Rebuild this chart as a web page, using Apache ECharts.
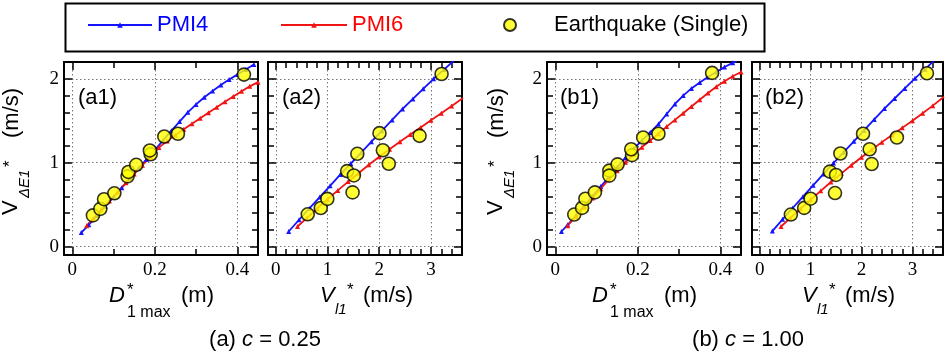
<!DOCTYPE html>
<html>
<head>
<meta charset="utf-8">
<title>V_dE1 vs D1max / Vl1</title>
<script src="https://cdn.jsdelivr.net/npm/echarts@6.0.0/dist/echarts.min.js"></script>
<style>
html,body{margin:0;padding:0;background:#fff;}
#main{width:948px;height:353px;}
</style>
</head>
<body>
<div id="main"></div>
<script>
// tick labels
var dTicks = [0, 0.2, 0.4];
var vTicks = [0, 1, 2, 3];
var yTicks = [0, 1, 2];

// (a) c = 0.25 , panel a1 : D1*max
var a1Pmi4X = [0.022,0.04,0.06,0.08,0.10,0.12,0.14,0.16,0.18,0.20,0.22,0.24,0.26,0.28,0.30,0.32,0.34,0.36,0.38,0.40,0.42,0.44];
var a1Pmi4Y = [0.168,0.26,0.37,0.48,0.59,0.70,0.815,0.93,1.04,1.15,1.265,1.38,1.49,1.60,1.695,1.78,1.855,1.925,1.99,2.05,2.11,2.17];
var a1Pmi6X = [0.035,0.05,0.07,0.09,0.11,0.13,0.15,0.17,0.19,0.21,0.23,0.25,0.27,0.29,0.31,0.33,0.35,0.37,0.39,0.41,0.43,0.45];
var a1Pmi6Y = [0.25,0.33,0.44,0.545,0.65,0.76,0.865,0.97,1.07,1.18,1.26,1.33,1.40,1.465,1.53,1.595,1.66,1.725,1.79,1.85,1.91,1.96];
var a1EqX = [0.05,0.068,0.077,0.102,0.134,0.136,0.155,0.19,0.188,0.223,0.256,0.416];
var a1EqY = [0.372,0.45,0.565,0.635,0.837,0.89,0.975,1.10,1.146,1.312,1.345,2.05];

// panel a2 : Vl1*
var a2Pmi4X = [0.25,0.45,0.65,0.85,1.05,1.25,1.45,1.65,1.85,2.05,2.25,2.45,2.65,2.85,3.05,3.25,3.45];
var a2Pmi4Y = [0.18,0.32,0.455,0.59,0.725,0.86,0.99,1.12,1.25,1.38,1.51,1.64,1.76,1.88,2.00,2.11,2.22];
var a2Pmi6X = [0.42,0.6,0.8,1.0,1.2,1.4,1.6,1.8,2.0,2.2,2.4,2.6,2.8,3.0,3.2,3.4,3.62];
var a2Pmi6Y = [0.24,0.34,0.455,0.565,0.67,0.775,0.875,0.975,1.07,1.16,1.25,1.335,1.42,1.505,1.59,1.675,1.77];
var a2EqX = [0.618,0.87,0.997,1.485,1.38,1.51,1.577,2.07,2.185,2.005,2.78,3.205];
var a2EqY = [0.385,0.46,0.569,0.646,0.9,0.848,1.106,1.148,0.987,1.352,1.32,2.057];

// (b) c = 1.00 , panel b1 : D1*max
var b1Pmi4X = [0.015,0.03,0.05,0.07,0.09,0.11,0.13,0.15,0.17,0.19,0.21,0.23,0.25,0.27,0.29,0.31,0.33,0.35,0.37,0.39,0.41,0.43,0.44];
var b1Pmi4Y = [0.18,0.26,0.37,0.485,0.60,0.715,0.83,0.945,1.06,1.165,1.265,1.36,1.46,1.58,1.70,1.80,1.885,1.955,2.02,2.08,2.14,2.19,2.215];
var b1Pmi6X = [0.03,0.05,0.07,0.09,0.11,0.13,0.15,0.17,0.19,0.21,0.23,0.25,0.27,0.29,0.31,0.33,0.35,0.37,0.39,0.41,0.43,0.45];
var b1Pmi6Y = [0.25,0.36,0.47,0.58,0.69,0.80,0.905,1.005,1.10,1.185,1.265,1.345,1.43,1.51,1.59,1.67,1.75,1.83,1.905,1.97,2.03,2.08];
var b1EqX = [0.046,0.065,0.073,0.096,0.131,0.131,0.151,0.186,0.184,0.213,0.25,0.38];
var b1EqY = [0.382,0.461,0.571,0.646,0.906,0.846,0.98,1.09,1.16,1.30,1.345,2.07];

// panel b2 : Vl1*
var b2Pmi4X = [0.25,0.45,0.65,0.85,1.05,1.25,1.45,1.65,1.85,2.05,2.25,2.45,2.65,2.85,3.05,3.25,3.43];
var b2Pmi4Y = [0.185,0.325,0.46,0.595,0.73,0.865,0.995,1.125,1.255,1.385,1.515,1.645,1.765,1.885,2.005,2.115,2.22];
var b2Pmi6X = [0.42,0.6,0.8,1.0,1.2,1.4,1.6,1.8,2.0,2.2,2.4,2.6,2.8,3.0,3.2,3.4,3.62];
var b2Pmi6Y = [0.24,0.34,0.45,0.56,0.665,0.77,0.87,0.97,1.065,1.155,1.245,1.33,1.415,1.50,1.59,1.68,1.785];
var b2EqX = [0.613,0.874,1.0,1.48,1.38,1.5,1.585,2.16,2.2,2.03,2.695,3.285];
var b2EqY = [0.382,0.461,0.571,0.638,0.894,0.854,1.11,1.16,0.984,1.345,1.30,2.066];

var BLUE = '#1414ff', RED = '#f01414';
var SERIF = 'Liberation Serif', SANS = 'Liberation Sans';

function pairs(xs, ys){
    var r = [];
    for (var i = 0; i < xs.length; i++) r.push([xs[i], ys[i]]);
    return r;
}
// only show labels listed in the tick array
function labelFrom(list){
    return function(v){
        for (var i = 0; i < list.length; i++) {
            if (Math.abs(v - list[i]) < 1e-6) return String(list[i]);
        }
        return '';
    };
}

var panels = [
    {box:{left:64, top:62, width:194, height:193}, xr:[-0.02,0.45], xSplit:2, xMinor:2, xLab:dTicks, yLab:true,
     p4:pairs(a1Pmi4X,a1Pmi4Y), p6:pairs(a1Pmi6X,a1Pmi6Y), eq:pairs(a1EqX,a1EqY)},
    {box:{left:268, top:62, width:194, height:193}, xr:[-0.15,3.6], xSplit:3, xMinor:5, xLab:vTicks, yLab:false,
     p4:pairs(a2Pmi4X,a2Pmi4Y), p6:pairs(a2Pmi6X,a2Pmi6Y), eq:pairs(a2EqX,a2EqY)},
    {box:{left:547, top:62, width:194, height:193}, xr:[-0.02,0.45], xSplit:2, xMinor:2, xLab:dTicks, yLab:true,
     p4:pairs(b1Pmi4X,b1Pmi4Y), p6:pairs(b1Pmi6X,b1Pmi6Y), eq:pairs(b1EqX,b1EqY)},
    {box:{left:752, top:62, width:191, height:193}, xr:[-0.15,3.6], xSplit:3, xMinor:5, xLab:vTicks, yLab:false,
     p4:pairs(b2Pmi4X,b2Pmi4Y), p6:pairs(b2Pmi6X,b2Pmi6Y), eq:pairs(b2EqX,b2EqY)}
];

var grids = [], xAxes = [], yAxes = [], series = [];

panels.forEach(function(p, g){
    grids.push({left:p.box.left, top:p.box.top, width:p.box.width, height:p.box.height,
        containLabel:false, outerBoundsMode:'none', show:false});
    // bottom + top
    [0,1].forEach(function(k){
        xAxes.push({
            type:'value', gridIndex:g, position:k ? 'top' : 'bottom',
            min:p.xr[0], max:p.xr[1], splitNumber:p.xSplit,
            axisLine:{show:true, onZero:false, lineStyle:{color:'#000', width:2}},
            axisTick:{show:true, inside:true, length:8, lineStyle:{color:'#000', width:1.5}},
            minorTick:{show:true, splitNumber:p.xMinor, length:6, lineStyle:{color:'#000', width:1.5}},
            splitLine:{show:!k, lineStyle:{color:'#777', width:1, type:[1.5,2.5]}},
            axisLabel:{show:!k, formatter:labelFrom(p.xLab), fontFamily:SERIF, fontSize:19, color:'#000', margin:6}
        });
    });
    // left + right ; shared y numbers of a2 / b2 are kept but transparent
    [0,1].forEach(function(k){
        yAxes.push({
            type:'value', gridIndex:g, position:k ? 'right' : 'left',
            min:-0.1, max:2.2, splitNumber:2,
            axisLine:{show:true, onZero:false, lineStyle:{color:'#000', width:2}},
            axisTick:{show:true, inside:true, length:8, lineStyle:{color:'#000', width:1.5}},
            minorTick:{show:true, splitNumber:5, length:6, lineStyle:{color:'#000', width:1.5}},
            splitLine:{show:!k, lineStyle:{color:'#777', width:1, type:[1.5,2.5]}},
            axisLabel:{show:!k, formatter:labelFrom(yTicks), fontFamily:SERIF, fontSize:19,
                color:p.yLab ? '#000' : 'rgba(0,0,0,0)', margin:5}
        });
    });
    series.push({type:'line', name:'PMI4', xAxisIndex:2*g, yAxisIndex:2*g, data:p.p4,
        symbol:'triangle', symbolSize:5, showSymbol:true,
        lineStyle:{color:BLUE, width:1.8}, itemStyle:{color:BLUE}});
    series.push({type:'line', name:'PMI6', xAxisIndex:2*g, yAxisIndex:2*g, data:p.p6,
        symbol:'triangle', symbolSize:5, showSymbol:true,
        lineStyle:{color:RED, width:1.8}, itemStyle:{color:RED}});
    series.push({type:'scatter', name:'Earthquake (Single)', xAxisIndex:2*g, yAxisIndex:2*g, data:p.eq,
        symbolSize:13, itemStyle:{color:'#ffff00', borderColor:'#000', borderWidth:1.6}, z:3});
});

// axis titles
function txt(x, y, text, size, italic){
    return {type:'text', z:10, style:{text:text, x:x, y:y, fill:'#000',
        font:(italic ? 'italic ' : '') + size + 'px "' + SANS + '"',
        textAlign:'left', textVerticalAlign:'middle'}};
}
function dTitle(c){
    return [txt(c-52, 296, 'D', 22, true), txt(c-34, 290, '*', 17), txt(c-34, 313, '1 max', 16), txt(c+20, 296, '(m)', 22)];
}
function vTitle(c){
    return [txt(c-45, 296, 'V', 22, true), txt(c-30, 310, 'l1', 15, true), txt(c-18, 290, '*', 17), txt(c-2, 296, '(m/s)', 22)];
}
function yTitle(x){
    return {type:'group', x:x, y:215, rotation:Math.PI/2, children:[
        txt(0, 0, 'V', 22), txt(17, 14, '\u0394E1', 15, true), txt(48, 0, '*', 17), txt(77, 1, '(m/s)', 22)
    ]};
}
function caption(cx, a, val){
    return {type:'text', z:10, style:{x:cx, y:340, text:'(' + a + ') {i|c} = ' + val, textAlign:'center', textVerticalAlign:'middle',
        fill:'#000', font:'22px "' + SANS + '"', rich:{i:{fontStyle:'italic', fontSize:22, fontFamily:SANS}}}};
}

var graphics = [
    {type:'rect', shape:{x:65.5, y:3.5, width:699, height:48}, style:{fill:'none', stroke:'#000', lineWidth:2}, z:10},
    txt(78, 98, '(a1)', 22), txt(282, 98, '(a2)', 22), txt(560, 98, '(b1)', 22), txt(765, 98, '(b2)', 22),
    yTitle(10.5), yTitle(495.5),
    caption(265, 'a', '0.25'), caption(748, 'b', '1.00')
].concat(dTitle(161), vTitle(365), dTitle(644), vTitle(847));

var legendText = {fontSize:22, fontFamily:SANS};
var option = {
    animation:false,
    backgroundColor:'#fff',
    grid:grids,
    xAxis:xAxes,
    yAxis:yAxes,
    legend:[
        {data:[{name:'PMI4', textStyle:{color:'#0000ff'}}], left:87, top:14, padding:0, itemWidth:64, itemHeight:7,
         selectedMode:false, textStyle:legendText},
        {data:[{name:'PMI6', textStyle:{color:'#ff0000'}}], left:280, top:14, padding:0, itemWidth:66, itemHeight:7,
         selectedMode:false, textStyle:legendText},
        {data:[{name:'Earthquake (Single)', textStyle:{color:'#000', padding:[0,0,0,33]}}], left:503, top:14, padding:0,
         itemWidth:12, itemHeight:12, selectedMode:false, textStyle:legendText}
    ],
    graphic:graphics,
    series:series
};

var myChart = echarts.init(document.getElementById('main'));
myChart.setOption(option);
</script>
</body>
</html>
